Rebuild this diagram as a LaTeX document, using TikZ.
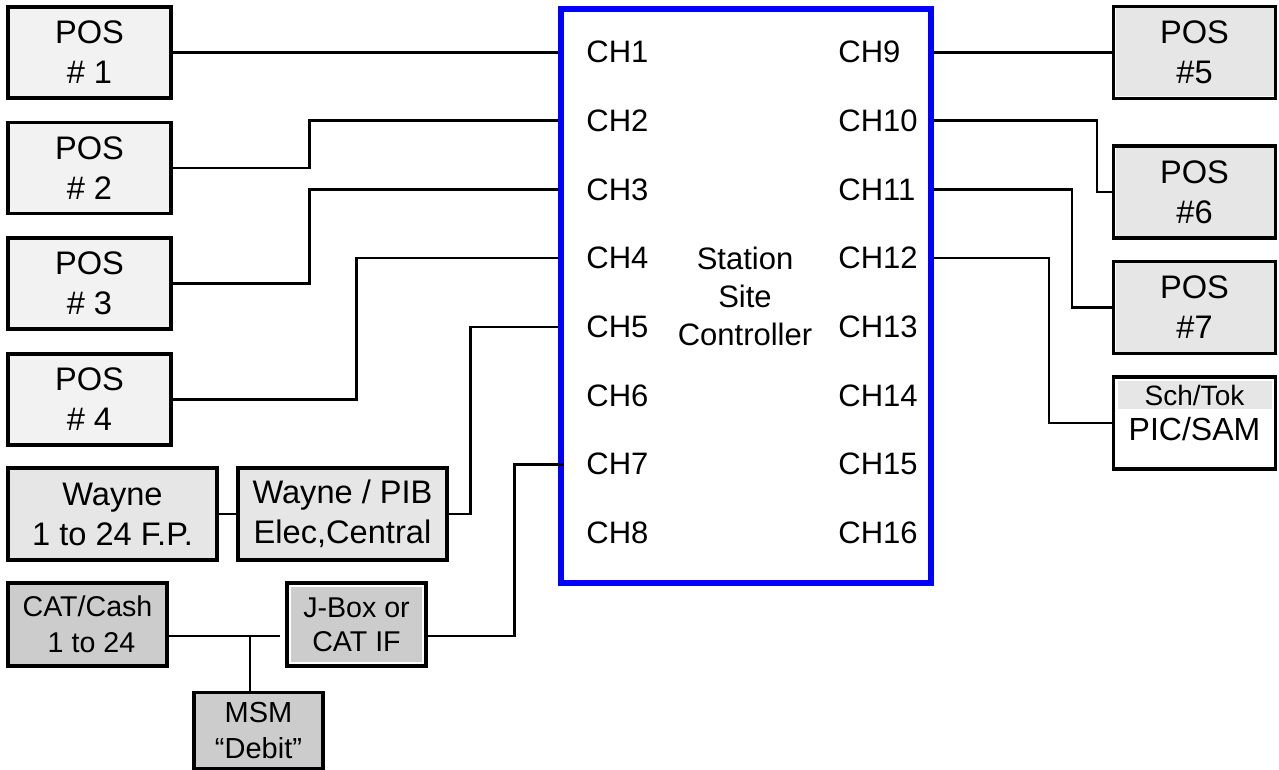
\documentclass[tikz,border=0pt]{standalone}
\usepackage{fontspec}
\setmainfont{Liberation Sans}
\definecolor{lightgray1}{HTML}{F2F2F2}
\definecolor{midgray1}{HTML}{E6E6E6}
\definecolor{darkgray1}{HTML}{CCCCCC}
\begin{document}
\begin{tikzpicture}[x=0.5pt,y=-0.5pt, every node/.style={font=\fontsize{16.3}{20}\selectfont},
  box/.style={draw,line width=1.7pt,inner sep=0pt,align=center,minimum width=81.5pt,minimum height=45.5pt},
  framed/.style={path picture={\draw[white,line width=#1] (path picture bounding box.south west) rectangle (path picture bounding box.north east);}},
  wire/.style={line width=1.3pt},
  chan/.style={anchor=west,inner sep=0pt,font=\fontsize{15.5}{19}\selectfont}]
\useasboundingbox (0,0) rectangle (1279,770);
% controller
\node[draw=blue,line width=3pt,minimum width=185pt,minimum height=287pt,inner sep=0pt] (ctrl) at (746,296) {};
\node[align=center,font=\fontsize{15.5}{19}\selectfont] (title) at (745,296) {Station\\Site\\Controller};
\foreach \i in {1,...,8} {
  \node[chan] (ch\i) at (586,{52+68.7*(\i-1)}) {CH\i};
  \pgfmathtruncatemacro{\j}{\i+8}
  \node[chan] (ch\j) at (838,{52+68.7*(\i-1)}) {CH\j};
}
% left side
\node[box,fill=lightgray1] (pos1) at (89.5,52.5) {POS\\\# 1};
\node[box,fill=lightgray1] (pos2) at (89.5,168) {POS\\\# 2};
\node[box,fill=lightgray1] (pos3) at (89.5,283.5) {POS\\\# 3};
\node[box,fill=lightgray1] (pos4) at (89.5,399.5) {POS\\\# 4};
\node[box,fill=midgray1,minimum width=104.5pt,minimum height=46pt] (wayne) at (112.5,514) {Wayne\\1 to 24 F.P.};
\node[box,fill=midgray1,minimum width=104.5pt,minimum height=46pt] (pib) at (342.5,514) {Wayne / PIB\\Elec,Central};
\node[box,fill=darkgray1,minimum width=79.5pt,minimum height=41.5pt,font=\fontsize{14.3}{18}\selectfont] (cat) at (87.5,624.5) {CAT/Cash\\\ 1 to 24};
\node[box,fill=darkgray1,framed=4pt,minimum width=69.5pt,minimum height=41.5pt,font=\fontsize{14.3}{17}\selectfont] (jbox) at (356.5,624.5) {J-Box or\\CAT IF};
\node[box,fill=darkgray1,minimum width=64.5pt,minimum height=38pt,font=\fontsize{14.5}{18}\selectfont] (msm) at (258.5,730.5) {MSM\\``Debit''};
% right side
\node[box,fill=midgray1,framed=2pt,minimum width=81pt,minimum height=46pt] (pos5) at (1194.5,52.5) {POS\\\#5};
\node[box,fill=midgray1,framed=2pt,minimum width=81pt,minimum height=46pt] (pos6) at (1194.5,192) {POS\\\#6};
\node[box,fill=midgray1,framed=2pt,minimum width=81pt,minimum height=46pt] (pos7) at (1194.5,307.5) {POS\\\#7};
\node[box,fill=white,minimum width=81pt,minimum height=46pt] (sam) at (1194.5,423) {};
\node[fill=midgray1,minimum width=77pt,minimum height=14pt,inner sep=0pt,font=\fontsize{14}{16}\selectfont] (samtop) at (1194.5,395) {Sch/Tok};
\node[inner sep=0pt,font=\fontsize{16}{18}\selectfont] (samtext) at (1194.5,429) {PIC/SAM};
% connectors left
\draw[wire] (pos1.east) -- (pos1.east -| ctrl.west);
\draw[wire] (pos2.east) -- ++(137,0) |- (ch2.west -| ctrl.west);
\draw[wire] (pos3.east) -- ++(137,0) |- (ch3.west -| ctrl.west);
\draw[wire] (pos4.east) -- ++(184,0) |- (ch4.west -| ctrl.west);
\draw[wire] (wayne.east) -- (pib.west);
\draw[wire] (pib.east) -- ++(22,0) |- (ch5.west -| ctrl.west);
\draw[wire] ([yshift=-5.75pt]jbox.east) -- ++(87,0) |- ([xshift=3pt]ch7.west -| ctrl.west);
\draw[line width=1pt,shorten >=2.5pt] ([yshift=-5.75pt]cat.east) -- ([yshift=-5.75pt]jbox.west) coordinate[pos=0.7] (tee);
\draw[line width=1pt] (tee) -- (tee |- msm.north);
% connectors right
\draw[wire] (pos5.west -| ctrl.east) -- (pos5.west);
\draw[wire] (ch10.west -| ctrl.east) -- ++(163,0) |- (pos6.west);
\draw[wire] (ch11.west -| ctrl.east) -- ++(138,0) |- (pos7.west);
\draw[wire] (ch12.west -| ctrl.east) -- ++(115,0) |- (sam.west);
\end{tikzpicture}
\end{document}
